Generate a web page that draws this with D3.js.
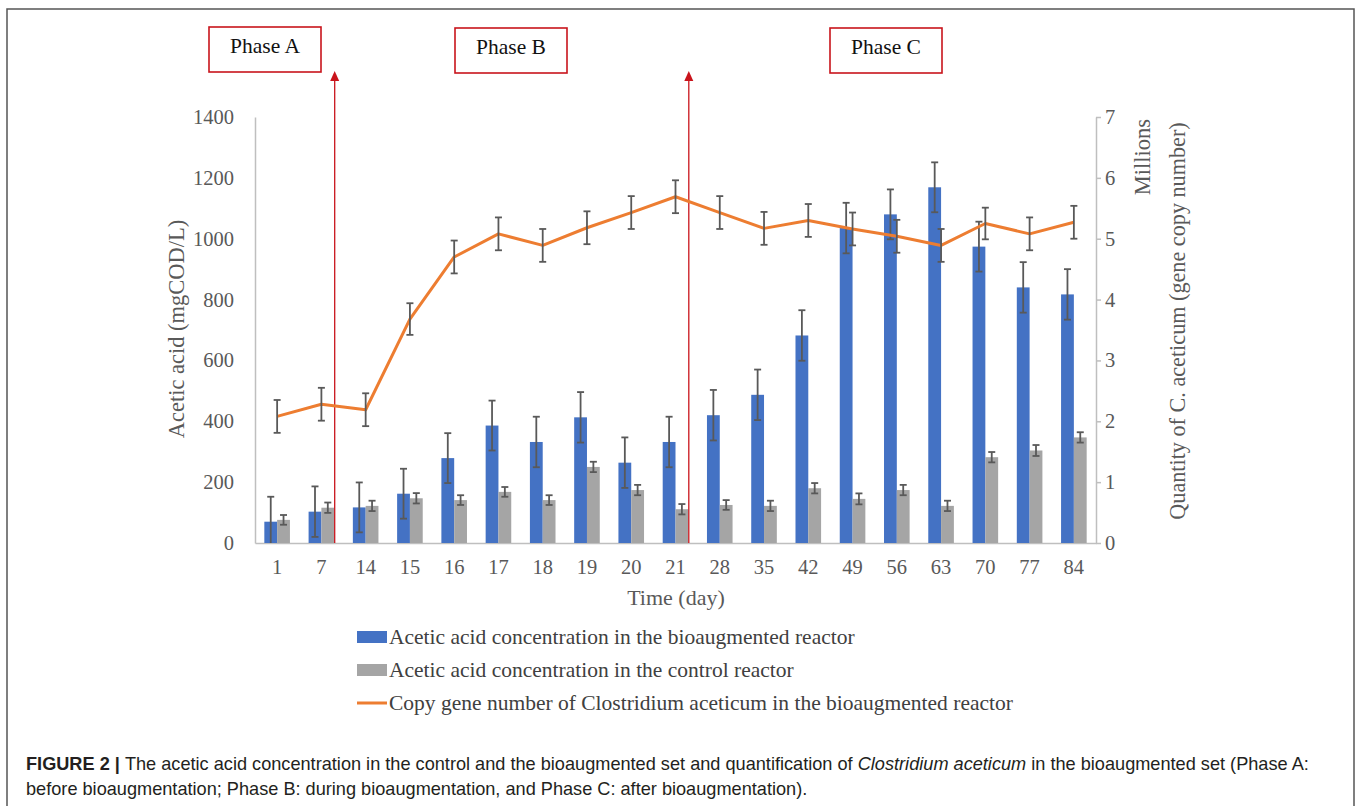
<!DOCTYPE html>
<html>
<head>
<meta charset="utf-8">
<script src="https://cdn.jsdelivr.net/npm/d3@7"></script>
<style>
  html, body { margin: 0; padding: 0; background: #fff; }
  svg { display: block; }
</style>
</head>
<body>
<svg id="chart" width="1357" height="806"></svg>
<script>
// ---------------- DATA ----------------
const categories = ["1","7","14","15","16","17","18","19","20","21","28","35","42","49","56","63","70","77","84"];
const bioValues   = [70,103,117,162,279,386,332,413,264,332,420,487,682,1035,1080,1169,974,840,817];
const bioErrors   = [82,83,82,82,82,82,83,83,83,83,83,83,83,83,82,82,82,83,83];
const controlValues = [76,116,122,147,141,168,141,250,174,111,125,122,180,145,174,122,282,304,347];
const controlErrors = [16,17,17,17,16,16,16,17,17,17,16,17,17,18,17,17,17,18,17];
const geneValues  = [2.08,2.28,2.19,3.68,4.70,5.08,4.89,5.18,5.43,5.69,5.43,5.17,5.30,5.16,5.04,4.89,5.25,5.08,5.27];
const geneErrors  = [0.27,0.27,0.27,0.26,0.27,0.27,0.27,0.27,0.27,0.27,0.27,0.27,0.27,0.27,0.27,0.27,0.26,0.27,0.27];
const leftTicks  = [0,200,400,600,800,1000,1200,1400];
const rightTicks = [0,1,2,3,4,5,6,7];
const phaseLabels = ["Phase A","Phase B","Phase C"];
const phaseEnds = ["7","21"]; // last category of Phase A and Phase B
const seriesNames = [
  "Acetic acid concentration in the bioaugmented reactor",
  "Acetic acid concentration in the control reactor",
  "Copy gene number of Clostridium aceticum in the bioaugmented reactor"
];

// ---------------- LAYOUT ----------------
const svg = d3.select("#chart");
const plot = {left: 255, right: 1096, top: 117, bottom: 543};
const serif = "'Liberation Serif', 'Times New Roman', serif";
const sans = "'Liberation Sans', Arial, sans-serif";
const colBlue = "#4472C4", colGray = "#A5A5A5", colOrange = "#ED7D31";
const colErr = "#595959", colAxis = "#BFBFBF", colText = "#595959", colRed = "#C9141C";

// outer frame
svg.append("rect").attr("x", 7).attr("y", 9).attr("width", 1347).attr("height", 820)
  .attr("fill", "none").attr("stroke", "#555").attr("stroke-width", 1.5);

const x = d3.scaleBand().domain(categories).range([plot.left, plot.right]).paddingInner(0).paddingOuter(0);
const xs = d3.scaleBand().domain(["bio","control"]).range([0, x.bandwidth()]).paddingInner(0).paddingOuter(0.729);
const y = d3.scaleLinear().domain([0, 1400]).range([plot.bottom, plot.top]);
const y2 = d3.scaleLinear().domain([0, 7]).range([plot.bottom, plot.top]);

// ---------------- AXES ----------------
const gLeft = svg.append("g").attr("transform", `translate(${plot.left},0)`)
  .call(d3.axisLeft(y).tickValues(leftTicks).tickFormat(d3.format("d")).tickSize(0).tickSizeOuter(0).tickPadding(21));
const gRight = svg.append("g").attr("transform", `translate(${plot.right},0)`)
  .call(d3.axisRight(y2).tickValues(rightTicks).tickFormat(d3.format("d")).tickSize(5).tickSizeOuter(0).tickPadding(4));
const gBottom = svg.append("g").attr("transform", `translate(0,${plot.bottom})`)
  .call(d3.axisBottom(x).tickSize(0).tickSizeOuter(0).tickPadding(16));
[gLeft, gRight, gBottom].forEach(g => {
  g.select(".domain").attr("stroke", colAxis).attr("stroke-width", 1.5);
  g.selectAll(".tick line").attr("stroke", colAxis).attr("stroke-width", 1.5);
  g.selectAll(".tick text").attr("fill", colText).style("font-family", serif).style("font-size", "20.5px");
});

// ---------------- BARS ----------------
const barsG = svg.append("g");
barsG.selectAll("rect.bio").data(categories).join("rect").attr("class","bio")
  .attr("x", (c) => x(c) + xs("bio")).attr("width", xs.bandwidth())
  .attr("y", (c,i) => y(bioValues[i])).attr("height", (c,i) => y(0) - y(bioValues[i]))
  .attr("fill", colBlue);
barsG.selectAll("rect.ctl").data(categories).join("rect").attr("class","ctl")
  .attr("x", (c) => x(c) + xs("control")).attr("width", xs.bandwidth())
  .attr("y", (c,i) => y(controlValues[i])).attr("height", (c,i) => y(0) - y(controlValues[i]))
  .attr("fill", colGray);

// ---------------- PHASE ANNOTATIONS ----------------
const annG = svg.append("g");
phaseEnds.forEach(c => {
  const px = x(c) + xs("control") + xs.bandwidth() + 0.5;
  annG.append("line").attr("x1", px).attr("x2", px).attr("y1", 80).attr("y2", plot.bottom)
    .attr("stroke", colRed).attr("stroke-width", 1.3);
  annG.append("path").attr("d", `M${px},71 L${px-4.5},81 L${px+4.5},81 Z`).attr("fill", colRed);
});
const boxPos = [{x: 209, y: 27}, {x: 455, y: 28}, {x: 830, y: 28}];
phaseLabels.forEach((lab, i) => {
  annG.append("rect").attr("x", boxPos[i].x).attr("y", boxPos[i].y).attr("width", 112).attr("height", 45)
    .attr("fill", "#fff").attr("stroke", colRed).attr("stroke-width", 1.6);
  annG.append("text").attr("x", boxPos[i].x + 56).attr("y", boxPos[i].y + 26)
    .attr("text-anchor", "middle").attr("fill", "#111")
    .style("font-family", serif).style("font-size", "21.5px").text(lab);
});

// ---------------- ERROR BARS ----------------
function errBar(g, cx, v, e, scale, lo) {
  const yt = scale(v + e), yb = scale(Math.max(lo, v - e));
  g.append("line").attr("x1", cx).attr("x2", cx).attr("y1", yt).attr("y2", yb);
  g.append("line").attr("x1", cx - 3.5).attr("x2", cx + 3.5).attr("y1", yt).attr("y2", yt);
  if (v - e >= lo) g.append("line").attr("x1", cx - 3.5).attr("x2", cx + 3.5).attr("y1", yb).attr("y2", yb);
}
const errG = svg.append("g").attr("stroke", colErr).attr("stroke-width", 1.8);
categories.forEach((c, i) => {
  errBar(errG, x(c) + xs("bio") + xs.bandwidth()/2, bioValues[i], bioErrors[i], y, 0);
  errBar(errG, x(c) + xs("control") + xs.bandwidth()/2, controlValues[i], controlErrors[i], y, 0);
});

// ---------------- LINE ----------------
const line = d3.line().x((d, i) => x(categories[i]) + x.bandwidth()/2).y(d => y2(d));
svg.append("path").datum(geneValues).attr("d", line).attr("fill", "none")
  .attr("stroke", colOrange).attr("stroke-width", 3).attr("stroke-linejoin", "round");
const errG2 = svg.append("g").attr("stroke", colErr).attr("stroke-width", 1.8);
categories.forEach((c, i) => {
  errBar(errG2, x(c) + x.bandwidth()/2, geneValues[i], geneErrors[i], y2, 0);
});

// ---------------- AXIS TITLES ----------------
svg.append("text").attr("transform", "translate(184,329) rotate(-90)").attr("text-anchor", "middle")
  .attr("fill", colText).style("font-family", serif).style("font-size", "22.5px").text("Acetic acid (mgCOD/L)");
svg.append("text").attr("x", 676).attr("y", 605).attr("text-anchor", "middle")
  .attr("fill", colText).style("font-family", serif).style("font-size", "22px").text("Time (day)");
svg.append("text").attr("transform", "translate(1150,157) rotate(-90)").attr("text-anchor", "middle")
  .attr("fill", colText).style("font-family", serif).style("font-size", "22.5px").text("Millions");
svg.append("text").attr("transform", "translate(1185,321) rotate(-90)").attr("text-anchor", "middle")
  .attr("fill", colText).style("font-family", serif).style("font-size", "22.2px").text("Quantity of C. aceticum (gene copy number)");

// ---------------- LEGEND ----------------
const legG = svg.append("g");
const legRows = [637, 670, 703];
legG.append("rect").attr("x", 357).attr("y", legRows[0] - 6).attr("width", 30).attr("height", 12).attr("fill", colBlue);
legG.append("rect").attr("x", 357).attr("y", legRows[1] - 6).attr("width", 30).attr("height", 12).attr("fill", colGray);
legG.append("line").attr("x1", 357).attr("x2", 387).attr("y1", legRows[2]).attr("y2", legRows[2])
  .attr("stroke", colOrange).attr("stroke-width", 3);
seriesNames.forEach((s, i) => {
  legG.append("text").attr("x", 389).attr("y", legRows[i] + 7).attr("fill", "#404040")
    .style("font-family", serif).style("font-size", "21.5px").text(s);
});

// ---------------- CAPTION ----------------
const cap1 = svg.append("text").attr("x", 26).attr("y", 770).attr("fill", "#231f20")
  .style("font-family", sans).style("font-size", "16px");
cap1.append("tspan").style("font-weight", "bold").text("FIGURE 2 | ");
cap1.append("tspan").text("The acetic acid concentration in the control and the bioaugmented set and quantification of ");
cap1.append("tspan").style("font-style", "italic").text("Clostridium aceticum");
cap1.append("tspan").text(" in the bioaugmented set (Phase A:");
const cap2 = svg.append("text").attr("x", 26).attr("y", 795).attr("fill", "#231f20")
  .style("font-family", sans).style("font-size", "16px")
  .text("before bioaugmentation; Phase B: during bioaugmentation, and Phase C: after bioaugmentation).");
const w1 = cap1.node().getComputedTextLength();
const fs = 16 * 1284 / w1;
cap1.style("font-size", fs + "px");
cap2.style("font-size", fs + "px");
</script>
</body>
</html>
